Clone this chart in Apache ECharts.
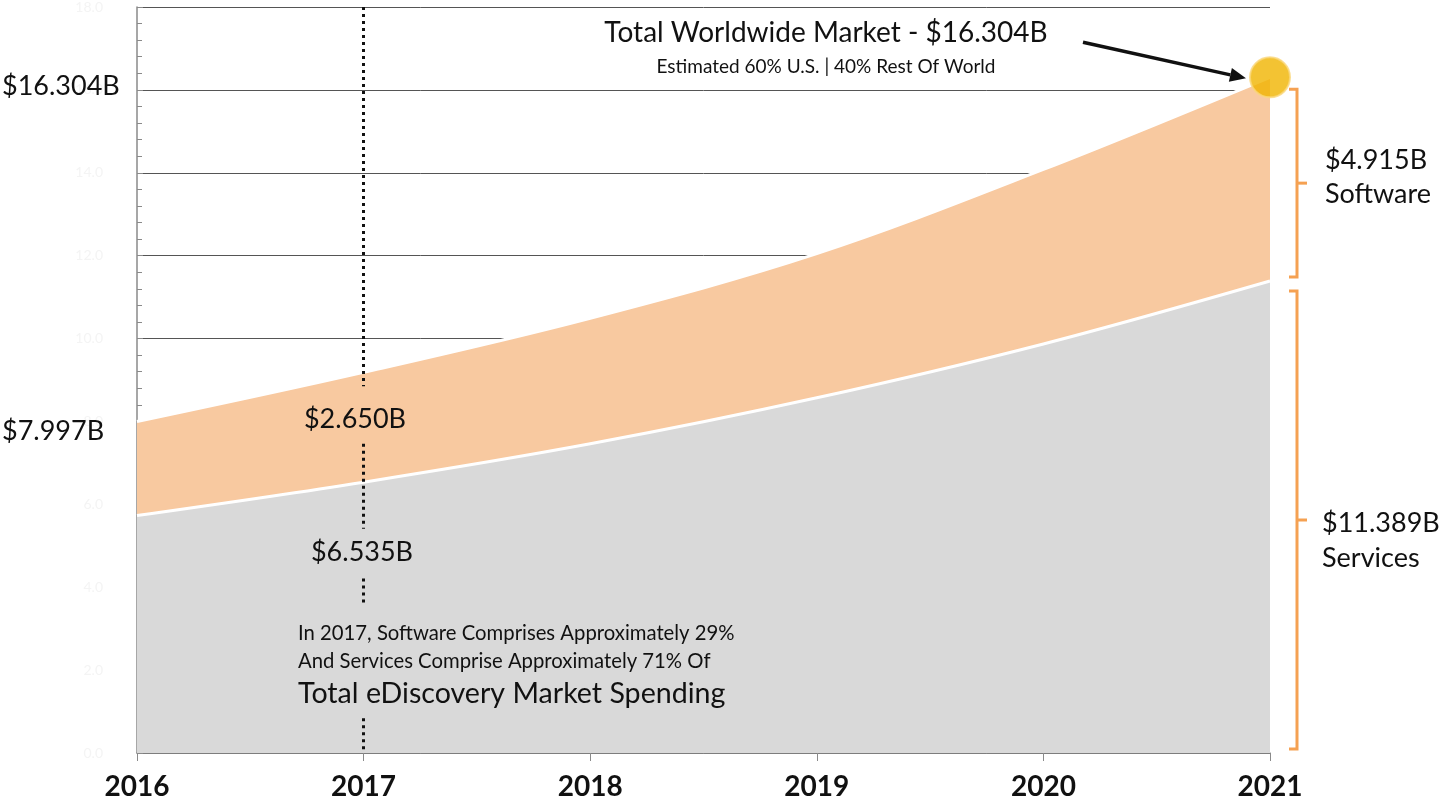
<!DOCTYPE html>
<html>
<head>
<meta charset="utf-8">
<script src="https://cdn.jsdelivr.net/npm/echarts@6/dist/echarts.min.js"></script>
<style>
html,body{margin:0;padding:0;background:#fff;}
#c{width:1442px;height:809px;}
</style>
</head>
<body>
<div id="c"></div>
<script>
const years = ['2016', '2017', '2018', '2019', '2020', '2021'];
const services = [5.73, 6.535, 7.46, 8.57, 9.87, 11.389];
const software = [2.267, 2.65, 3.03, 3.48, 4.21, 4.915];
const yMin = 0, yMax = 18, yInterval = 2;
const dottedSegments = [[18, 8.85], [7.46, 5.41], [4.21, 3.54], [0.84, 0]];

const FONT = 'Lato, "Open Sans", sans-serif';
const totalLast = +(services[5] + software[5]).toFixed(3);

const chart = echarts.init(document.getElementById('c'), null, {renderer: 'canvas'});

const option = {
  animation: false,
  backgroundColor: '#ffffff',
  grid: {left: 137, right: 172, top: 5, bottom: 56, containLabel: false},
  xAxis: {
    type: 'category',
    data: years,
    boundaryGap: false,
    axisLine: {show: true, lineStyle: {color: '#8a8a8a', width: 1.5}},
    axisTick: {show: true, length: 8, inside: false, lineStyle: {color: '#8a8a8a'}},
    axisLabel: {color: '#111', fontSize: 28, fontWeight: 'bold', fontFamily: FONT, margin: 20},
    splitLine: {show: false}
  },
  yAxis: {
    type: 'value',
    min: yMin, max: yMax, interval: yInterval,
    axisLine: {show: true, lineStyle: {color: '#8a8a8a', width: 1.5}},
    axisTick: {show: true, inside: true, length: 6, lineStyle: {color: '#8a8a8a'}},
    minorTick: {show: true, splitNumber: 5, length: 5, lineStyle: {color: '#8a8a8a'}},
    axisLabel: {color: '#f4f4f4', fontSize: 14, fontFamily: FONT, margin: 34,
      formatter: v => v.toFixed(1)},
    splitLine: {show: true, lineStyle: {color: '#555', width: 1}}
  },
  series: [
    {
      name: 'Services', type: 'line', stack: 'total', smooth: 0.35,
      data: services, symbol: 'none',
      lineStyle: {color: '#ffffff', width: 3},
      areaStyle: {color: '#d9d9d9', opacity: 1},
      z: 2
    },
    {
      name: 'Software', type: 'line', stack: 'total', smooth: 0.35,
      data: software, symbol: 'none',
      lineStyle: {color: '#ffffff', width: 3},
      areaStyle: {color: '#f8c9a0', opacity: 1},
      z: 2
    },
    {
      name: 'Total', type: 'scatter',
      data: [[years[5], totalLast]],
      symbolSize: 40,
      itemStyle: {color: '#f0b400', borderColor: '#fad77a', borderWidth: 2},
      z: 5,
      markLine: {
        silent: true, symbol: 'none', animation: false,
        label: {show: false},
        lineStyle: {color: '#111', width: 3, type: [3, 4]},
        data: dottedSegments.map(s => [{coord: [years[1], s[0]]}, {coord: [years[1], s[1]]}])
      }
    }
  ]
};
chart.setOption(option);

function px(cat, v) { return chart.convertToPixel({xAxisIndex: 0, yAxisIndex: 0}, [cat, v]); }

const dot = px(years[5], totalLast);
const mid = px(years[5], services[5]);
const base = px(years[5], 0);
const bx = dot[0] + 27;
const orange = '#f5a152';

function bracket(y1, y2) {
  const ym = (y1 + y2) / 2;
  return [
    {type: 'polyline', shape: {points: [[bx - 8, y1], [bx, y1], [bx, y2], [bx - 8, y2]]},
      style: {stroke: orange, lineWidth: 3, fill: null}, z: 10},
    {type: 'line', shape: {x1: bx, y1: ym, x2: bx + 10, y2: ym},
      style: {stroke: orange, lineWidth: 3}, z: 10}
  ];
}

function txt(x, y, text, size, align) {
  return {
    type: 'text', x: x, y: y, z: 20,
    style: {text: text, fill: '#111', font: size + 'px ' + FONT, align: align || 'left', verticalAlign: 'middle'}
  };
}

const ax1 = dot[0] - 187, ay1 = dot[1] - 35, ax2 = dot[0] - 24, ay2 = dot[1] + 1;
const ang = Math.atan2(ay2 - ay1, ax2 - ax1);
const ah = 16, aw = 7;
const hx = ax2 - ah * Math.cos(ang), hy = ay2 - ah * Math.sin(ang);

const graphics = [].concat(
  bracket(dot[1] + 12, mid[1] - 4),
  bracket(mid[1] + 10, base[1] - 4),
  [
    {type: 'line', shape: {x1: ax1, y1: ay1, x2: hx, y2: hy}, style: {stroke: '#111', lineWidth: 3.5}, z: 20},
    {type: 'polygon', shape: {points: [[ax2, ay2], [hx - aw * Math.sin(ang), hy + aw * Math.cos(ang)], [hx + aw * Math.sin(ang), hy - aw * Math.cos(ang)]]},
      style: {fill: '#111'}, z: 20},
    txt(826, 33, 'Total Worldwide Market - $16.304B', 28, 'center'),
    txt(826, 67, 'Estimated 60% U.S. | 40% Rest Of World', 19, 'center'),
    txt(2, 86, '$16.304B', 27, 'left'),
    txt(2, 431, '$7.997B', 27, 'left'),
    txt(355, 419, '$2.650B', 27, 'center'),
    txt(362, 552, '$6.535B', 27, 'center'),
    txt(298, 633, 'In 2017, Software Comprises Approximately 29%', 20.3, 'left'),
    txt(298, 661, 'And Services Comprise Approximately 71% Of', 20.3, 'left'),
    txt(298, 694, 'Total eDiscovery Market Spending', 28.6, 'left'),
    txt(1325, 160, '$4.915B', 27, 'left'),
    txt(1325, 194, 'Software', 27, 'left'),
    txt(1322, 523, '$11.389B', 27, 'left'),
    txt(1322, 558, 'Services', 27, 'left')
  ]
);
chart.setOption({graphic: graphics});
</script>
</body>
</html>
